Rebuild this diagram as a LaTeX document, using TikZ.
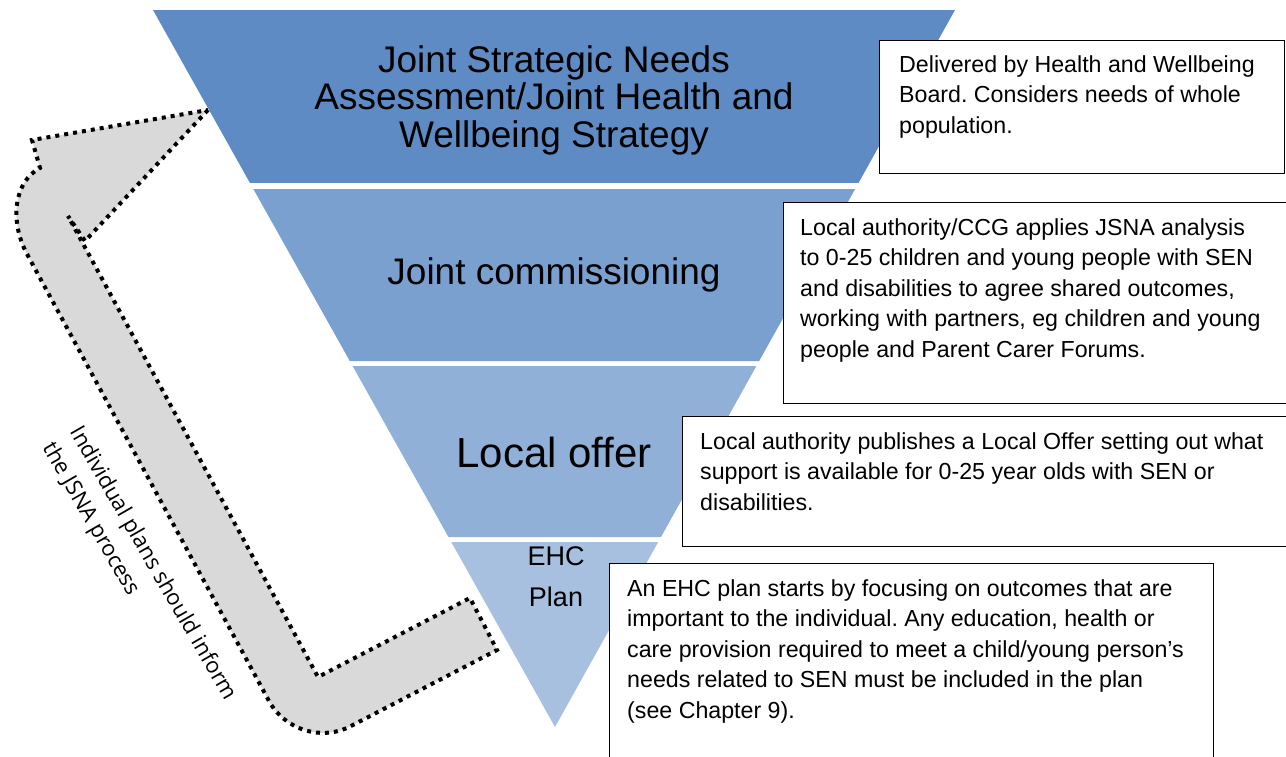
\documentclass[tikz,border=0pt]{standalone}
\usepackage{fontspec}
\setmainfont{Liberation Sans}
\newfontfamily\sidefont{Open Sans}
\usetikzlibrary{positioning, calc}

\definecolor{bandA}{RGB}{94,139,196}
\definecolor{bandB}{RGB}{122,160,207}
\definecolor{bandC}{RGB}{144,176,215}
\definecolor{bandD}{RGB}{167,192,224}

\frenchspacing
\begin{document}
\begin{tikzpicture}[
    x=1pt, y=-1pt,
    % Define text styles
    title/.style={align=center, inner sep=0pt, font=\fontsize{37}{37.5}\selectfont},
    boxtext/.style={anchor=north west, align=left, inner sep=0pt, font=\fontsize{23.2}{30.5}\selectfont},
    sidetext/.style={anchor=north west, align=left, inner sep=0pt, rotate=-60, font=\sidefont\fontsize{22}{31.5}\selectfont},
    % Define box and arrow styles
    infobox/.style={draw, line width=1.2pt, fill=white, anchor=north west, inner sep=0pt},
    bentarrow/.style={fill=gray!30, draw=black, line width=4pt, dash pattern=on 4pt off 5pt},
]
\useasboundingbox (0,0) rectangle (1286,756);

% The inverted triangle, cut into four bands
\coordinate (tl) at (153,10);
\coordinate (tr) at (955,10);
\coordinate (apex) at (555,727);
\foreach \ya/\yb/\col in {10/183/bandA, 189/361/bandB, 366/537/bandC, 542/727/bandD} {
    \pgfmathsetmacro\ta{(\ya-10)/717}
    \pgfmathsetmacro\tb{(\yb-10)/717}
    \fill[\col] ($(tl)!\ta!(apex)$) -- ($(tr)!\ta!(apex)$) -- ($(tr)!\tb!(apex)$) -- ($(tl)!\tb!(apex)$) -- cycle;
}

% Band titles
\node[title] (jsna) at (554,100) {Joint Strategic Needs\\Assessment/Joint Health and\\Wellbeing Strategy};
\node[title] (commissioning) at (554,275) {Joint commissioning};
\node[title, font=\fontsize{42}{44}\selectfont] (offer) at (554,452) {Local offer};
\node[title, font=\fontsize{27}{41}\selectfont] (ehc) at (556,577) {EHC\\Plan};

% Bent arrow on the left
\draw[bentarrow] (208,110) -- (85,241) -- (68,216) -- (318,677) -- (470,598) -- (497,650)
    -- (351,726) .. controls (321.7,741.5) and (285,730) .. (269,701)
    -- (27,254) .. controls (8.8,219.8) and (14.6,181.2) .. (40,168)
    -- (32,140) -- cycle;
\node[sidetext] (inform) at (84,423) {Individual plans should inform\\the JSNA process};

% Description boxes
\begin{scope}
\clip (0,0) rectangle (1286,756);
\node[infobox, minimum width=405pt, minimum height=133pt] (wholebox) at (879,40) {};
\node[infobox, minimum width=510pt, minimum height=201pt] (ccgbox) at (783,202) {};
\node[infobox, minimum width=610pt, minimum height=130pt] (offerbox) at (682,416) {};
\node[infobox, minimum width=604pt, minimum height=205pt] (planbox) at (609,563) {};
\end{scope}

\node[boxtext, below right=15pt and 20pt of wholebox.north west] (wholetext)
    {Delivered by Health and Wellbeing\\Board. Considers needs of whole\\population.};
\node[boxtext, below right=16pt and 17pt of ccgbox.north west] (ccgtext)
    {Local authority/CCG applies JSNA analysis\\to 0-25 children and young people with SEN\\and disabilities to agree shared outcomes,\\working with partners, eg children and young\\people and Parent Carer Forums.};
\node[boxtext, below right=16pt and 18pt of offerbox.north west] (offertext)
    {Local authority publishes a Local Offer setting out what\\support is available for 0-25 year olds with SEN or\\disabilities.};
\node[boxtext, below right=16pt and 18pt of planbox.north west] (plantext)
    {An EHC plan starts by focusing on outcomes that are\\important to the individual. Any education, health or\\care provision required to meet a child/young person’s\\needs related to SEN must be included in the plan\\(see Chapter 9).};

\end{tikzpicture}
\end{document}
